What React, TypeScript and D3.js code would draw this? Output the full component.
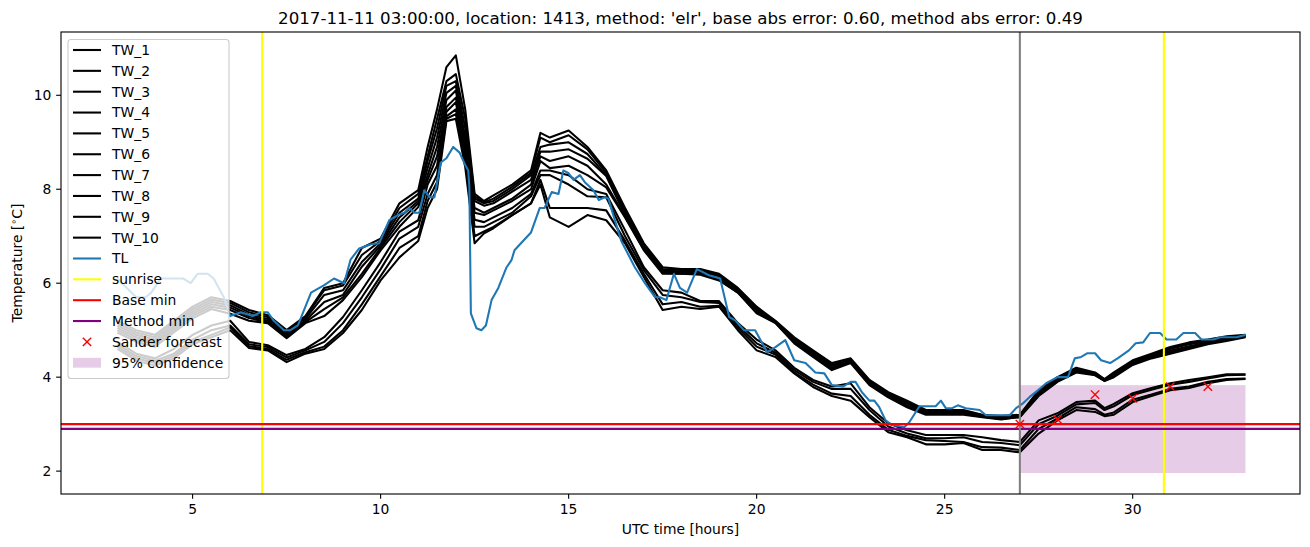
import React from 'react';
import * as d3 from 'd3';

// ---------- data ----------
const twHours = [
  3, 3.5, 4, 4.5, 5, 5.5, 6, 6.5, 7, 7.5, 8, 8.5, 9, 9.5, 10, 10.5, 11,
  11.25, 11.5, 11.75, 12, 12.25, 12.5, 12.75, 13, 13.5, 14, 14.25, 14.5,
  15, 15.5, 16, 16.5, 17, 17.5, 18, 18.5, 19, 19.5, 20, 20.5, 21, 21.5, 22,
  22.5, 23, 23.5, 24, 24.5, 25, 25.5, 26, 26.5, 27, 27.5, 28, 28.5, 29,
  29.25, 29.5, 30, 30.5, 31, 31.5, 32, 32.5, 33,
];

const tw1 = [
  5.2, 5.0, 4.9, 5.2, 5.5, 5.7, 5.62, 5.43, 5.32, 5.0, 5.3, 5.9, 6.0, 6.75, 6.95, 7.7, 7.98,
  8.9, 9.7, 10.6, 10.85, 9.7, 7.9, 7.75, 7.87, 8.1, 8.4, 9.2, 9.1,
  9.25, 8.9, 8.4, 7.6, 6.85, 6.34, 6.3, 6.3, 6.2, 5.9, 5.5, 5.2, 4.85, 4.57, 4.3,
  4.4, 3.94, 3.68, 3.5, 3.3, 3.3, 3.3, 3.2, 3.17, 3.2, 3.72, 4.0, 4.2, 4.1,
  3.96, 4.1, 4.36, 4.5, 4.64, 4.74, 4.8, 4.87, 4.9,
];
const tw2 = [
  5.15, 4.95, 4.85, 5.15, 5.45, 5.65, 5.58, 5.38, 5.28, 4.97, 5.28, 5.85, 5.95, 6.6, 6.9, 7.6, 7.9,
  8.7, 9.5, 10.3, 10.45, 9.5, 7.85, 7.72, 7.8, 8.05, 8.35, 9.1, 9.0,
  9.15, 8.85, 8.35, 7.55, 6.82, 6.3, 6.28, 6.27, 6.17, 5.88, 5.47, 5.19, 4.82, 4.54, 4.27,
  4.37, 3.92, 3.66, 3.47, 3.28, 3.28, 3.28, 3.19, 3.15, 3.18, 3.7, 3.98, 4.18, 4.08,
  3.95, 4.08, 4.34, 4.48, 4.62, 4.72, 4.78, 4.85, 4.89,
];
const tw3 = [
  5.1, 4.9, 4.8, 5.1, 5.4, 5.6, 5.53, 5.33, 5.24, 4.94, 5.24, 5.75, 5.85, 6.45, 6.85, 7.5, 7.8,
  8.6, 9.3, 10.2, 10.3, 9.3, 7.8, 7.7, 7.75, 8.0, 8.3, 8.9, 8.95,
  9.0, 8.75, 8.3, 7.5, 6.78, 6.27, 6.25, 6.25, 6.15, 5.85, 5.44, 5.18, 4.8, 4.51, 4.24,
  4.35, 3.9, 3.64, 3.44, 3.26, 3.26, 3.26, 3.18, 3.14, 3.17, 3.68, 3.96, 4.16, 4.07,
  3.94, 4.06, 4.32, 4.46, 4.6, 4.7, 4.76, 4.83, 4.88,
];
const tw4 = [
  5.05, 4.85, 4.75, 5.05, 5.35, 5.55, 5.48, 5.3, 5.2, 4.9, 5.2, 5.6, 5.75, 6.35, 6.8, 7.4, 7.75,
  8.45, 9.1, 10.05, 10.2, 9.1, 7.75, 7.65, 7.7, 7.95, 8.2, 8.8, 8.8,
  8.85, 8.65, 8.28, 7.45, 6.75, 6.25, 6.22, 6.22, 6.1, 5.83, 5.4, 5.17, 4.77, 4.48, 4.2,
  4.33, 3.88, 3.62, 3.4, 3.24, 3.24, 3.24, 3.17, 3.12, 3.16, 3.65, 3.94, 4.14, 4.06,
  3.93, 4.04, 4.3, 4.44, 4.56, 4.66, 4.74, 4.8, 4.87,
];
const tw5 = [
  5.0, 4.8, 4.7, 5.0, 5.3, 5.5, 5.43, 5.26, 5.17, 4.87, 5.17, 5.45, 5.7, 6.2, 6.75, 7.3, 7.7,
  8.3, 8.9, 9.9, 10.1, 9.0, 7.6, 7.5, 7.6, 7.8, 8.1, 8.7, 8.6,
  8.7, 8.5, 8.1, 7.42, 6.72, 6.22, 6.2, 6.2, 6.08, 5.8, 5.38, 5.16, 4.74, 4.45, 4.18,
  4.32, 3.85, 3.6, 3.38, 3.22, 3.22, 3.22, 3.16, 3.11, 3.15, 3.62, 3.92, 4.12, 4.05,
  3.92, 4.02, 4.28, 4.42, 4.53, 4.63, 4.72, 4.79, 4.86,
];
const tw6 = [
  4.95, 4.75, 4.65, 4.95, 5.25, 5.45, 5.35, 5.2, 5.15, 4.83, 5.15, 5.3, 5.64, 6.13, 6.7, 7.2, 7.62,
  8.2, 8.7, 9.75, 9.95, 8.9, 7.5, 7.45, 7.55, 7.75, 8.0, 8.6, 8.45,
  8.5, 8.3, 8.04, 7.4, 6.7, 6.2, 6.2, 6.18, 6.06, 5.8, 5.36, 5.15, 4.72, 4.43, 4.15,
  4.3, 3.83, 3.57, 3.36, 3.2, 3.2, 3.2, 3.15, 3.1, 3.15, 3.6, 3.9, 4.1, 4.04,
  3.92, 4.0, 4.26, 4.4, 4.5, 4.6, 4.7, 4.77, 4.85,
];
const tw7 = [
  4.75, 4.5, 4.4, 4.6, 4.9, 5.1, 5.2, 4.75, 4.68, 4.47, 4.6, 4.85, 5.28, 5.85, 6.45, 7.1, 7.34,
  8.1, 8.5, 9.65, 9.85, 8.8, 7.35, 7.3, 7.4, 7.6, 7.9, 8.4, 8.4,
  8.3, 8.0, 7.9, 7.13, 6.34, 5.85, 5.8, 5.62, 5.62, 5.15, 4.8, 4.57, 4.2, 3.94, 3.8,
  3.87, 3.36, 3.02, 2.87, 2.77, 2.77, 2.77, 2.72, 2.66, 2.62, 3.08, 3.23, 3.47, 3.5,
  3.34, 3.43, 3.66, 3.77, 3.87, 3.94, 4.0, 4.06, 4.06,
];
const tw8 = [
  4.7, 4.45, 4.35, 4.5, 4.8, 5.0, 5.1, 4.7, 4.64, 4.42, 4.57, 4.75, 5.15, 5.7, 6.3, 6.95, 7.2,
  7.9, 8.3, 9.55, 9.7, 8.7, 7.2, 7.2, 7.3, 7.5, 7.85, 8.3, 8.3,
  8.1, 7.85, 7.83, 7.0, 6.28, 5.75, 5.7, 5.6, 5.58, 5.1, 4.72, 4.52, 4.15, 3.9, 3.75,
  3.75, 3.3, 2.95, 2.8, 2.7, 2.7, 2.72, 2.62, 2.6, 2.55, 3.0, 3.18, 3.42, 3.45,
  3.3, 3.38, 3.62, 3.73, 3.84, 3.9, 3.97, 4.04, 4.05,
];
const tw9 = [
  4.65, 4.4, 4.3, 4.45, 4.75, 4.9, 5.06, 4.66, 4.6, 4.37, 4.53, 4.65, 5.0, 5.55, 6.15, 6.75, 7.0,
  7.75, 8.15, 9.5, 9.6, 8.6, 7.0, 7.1, 7.2, 7.45, 7.7, 8.2, 7.6,
  7.6, 7.6, 7.55, 6.9, 6.2, 5.55, 5.6, 5.5, 5.52, 5.05, 4.65, 4.48, 4.1, 3.84, 3.65,
  3.6, 3.2, 2.88, 2.75, 2.66, 2.64, 2.62, 2.51, 2.5, 2.45, 2.9, 3.12, 3.36, 3.32,
  3.2, 3.25, 3.52, 3.63, 3.75, 3.8, 3.9, 3.96, 3.97,
];
const tw10 = [
  4.6, 4.35, 4.25, 4.4, 4.7, 4.85, 5.0, 4.62, 4.57, 4.32, 4.5, 4.6, 4.94, 5.43, 6.06, 6.55, 6.9,
  7.6, 8.0, 9.45, 9.5, 8.47, 6.85, 7.06, 7.17, 7.45, 7.7, 8.1, 7.4,
  7.2, 7.45, 7.34, 6.85, 6.13, 5.43, 5.5, 5.45, 5.5, 5.0, 4.57, 4.43, 4.08, 3.79, 3.6,
  3.5, 3.15, 2.83, 2.72, 2.57, 2.57, 2.6, 2.45, 2.45, 2.4, 2.8, 3.08, 3.3, 3.26,
  3.17, 3.2, 3.47, 3.6, 3.72, 3.77, 3.87, 3.94, 3.96,
];
const twNames = ['TW_1', 'TW_2', 'TW_3', 'TW_4', 'TW_5', 'TW_6', 'TW_7', 'TW_8', 'TW_9', 'TW_10'];
const twSeries = [tw1, tw2, tw3, tw4, tw5, tw6, tw7, tw8, tw9, tw10];

const tlHours = [
  3.0, 3.25, 3.5, 3.75, 3.9, 4.15, 4.75, 4.95, 5.13, 5.4, 5.56, 5.83, 6.0, 6.28, 6.6, 6.8, 7.0, 7.16,
  7.43, 7.6, 7.8, 8.15, 8.5, 8.76, 9.03, 9.2, 9.43, 9.75, 9.96, 10.23, 10.46, 10.63, 10.76, 10.9,
  11.03, 11.16, 11.3, 11.43, 11.6, 11.75, 11.93, 12.1, 12.23, 12.33, 12.36, 12.4, 12.55, 12.68,
  12.8, 12.95, 13.13, 13.35, 13.48, 13.56, 13.8, 14.0, 14.23, 14.36, 14.55, 14.73, 14.86, 15.0,
  15.13, 15.3, 15.43, 15.66, 15.8, 15.96, 16.06, 16.15, 16.4, 16.76, 17.03, 17.3, 17.43, 17.6,
  17.8, 17.96, 18.15, 18.41, 18.73, 19.03, 19.27, 19.43, 19.66, 19.96, 20.28, 20.5, 20.76, 21.0,
  21.3, 21.56, 21.8, 22.0, 22.3, 22.5, 22.63, 22.8, 23.0, 23.13, 23.26, 23.43, 23.6, 23.93, 24.06,
  24.33, 24.76, 24.9, 25.03, 25.2, 25.35, 25.56, 25.93, 26.1, 26.73, 26.9, 27.08, 27.26, 27.48,
  27.7, 28.0, 28.28, 28.46, 28.63, 28.8, 29.0, 29.16, 29.4, 29.6, 29.9, 30.08, 30.28, 30.46,
  30.73, 30.9, 31.16, 31.35, 31.66, 31.83, 32.15, 32.33, 32.76, 33.0,
];
const tlValues = [
  6.1, 5.9, 5.7, 5.7, 5.8, 6.1, 6.1, 6.0, 6.2, 6.2, 6.1, 5.7, 5.3, 5.38, 5.3, 5.38, 5.38, 5.2,
  5.0, 5.0, 5.1, 5.8, 5.96, 6.1, 6.0, 6.5, 6.74, 6.83, 6.85, 7.34, 7.45, 7.5, 7.6, 7.5,
  7.5, 7.98, 7.83, 7.83, 8.57, 8.66, 8.9, 8.78, 8.55, 8.4, 8.04, 5.36, 5.04, 5.0,
  5.1, 5.64, 5.9, 6.34, 6.49, 6.7, 6.91, 7.08, 7.6, 7.6, 7.94, 7.9, 8.4, 8.34,
  8.2, 8.3, 8.15, 7.98, 7.77, 7.83, 7.8, 7.55, 6.9, 6.34, 6.0, 5.7, 5.7, 5.64,
  6.2, 5.9, 5.8, 6.3, 6.17, 6.1, 5.28, 5.21, 5.0, 5.0, 4.53, 4.64, 4.79, 4.36,
  4.3, 4.1, 4.08, 3.83, 3.8, 3.9, 3.9, 3.68, 3.5, 3.5, 3.36, 3.08, 2.98, 2.94, 3.04,
  3.38, 3.38, 3.5, 3.34, 3.34, 3.4, 3.34, 3.3, 3.19, 3.19, 3.34, 3.44, 3.58, 3.72,
  3.87, 4.0, 4.0, 4.4, 4.43, 4.51, 4.51, 4.36, 4.3, 4.4, 4.57, 4.72, 4.74, 4.94,
  4.94, 4.8, 4.8, 4.94, 4.94, 4.8, 4.8, 4.85, 4.85, 4.9,
];

const sunriseHours = [6.85, 30.83];
const forecastStart = 27;
const baseMin = 3.0;
const methodMin = 2.9;
const sanderHours = [27, 28, 29, 30, 31, 32];
const sanderValues = [3.0, 3.1, 3.63, 3.55, 3.8, 3.8];
const confidence = { x0: 27, x1: 33, lo: 1.96, hi: 3.83 };

const xTicks = [5, 10, 15, 20, 25, 30];
const yTicks = [2, 4, 6, 8, 10];

const title =
  "2017-11-11 03:00:00, location: 1413, method: 'elr', base abs error: 0.60, method abs error: 0.49";

// ---------- component ----------
export default function App() {
  const W = 1310;
  const H = 547;
  const left = 61;
  const right = 1300;
  const top = 32;
  const bottom = 494;
  const font = 'DejaVu Sans, sans-serif';
  const fs = 13.89;
  const lw = 2.08;

  const x = d3.scaleLinear().domain([1.5, 34.45]).range([left, right]);
  const y = d3.scaleLinear().domain([1.513, 11.347]).range([bottom, top]);

  const line = d3
    .line<[number, number]>()
    .x((d) => x(d[0]))
    .y((d) => y(d[1]));

  const twPaths = twSeries.map((vals) => {
    const n = Math.min(vals.length, twHours.length);
    const pts: [number, number][] = [];
    for (let i = 0; i < n; i++) pts.push([twHours[i], vals[i]]);
    return line(pts) || '';
  });
  const tlPts: [number, number][] = tlHours.map((h, i) => [h, tlValues[i]]);
  const tlPath = line(tlPts) || '';

  const legendItems: { label: string; kind: string; color: string }[] = [
    ...twNames.map((n) => ({ label: n, kind: 'line', color: '#000000' })),
    { label: 'TL', kind: 'line', color: '#1f77b4' },
    { label: 'sunrise', kind: 'line', color: '#ffff00' },
    { label: 'Base min', kind: 'line', color: '#ff0000' },
    { label: 'Method min', kind: 'line', color: '#800080' },
    { label: 'Sander forecast', kind: 'x', color: '#ff0000' },
    { label: '95% confidence', kind: 'patch', color: '#800080' },
  ];
  const legX = 68;
  const legY = 39.5;
  const legW = 161;
  const legRow = 20.85;
  const legH = 339;

  const mk = 4.17;
  const mew = 1.39;

  return (
    <svg
      width={W}
      height={H}
      style={{ position: 'absolute', left: 0, top: 0, background: '#fff' }}
      fontFamily={font}
    >
      <defs>
        <clipPath id="plotclip">
          <rect x={left} y={top} width={right - left} height={bottom - top} />
        </clipPath>
      </defs>
      <rect x={0} y={0} width={W} height={H} fill="#fff" />

      <g clipPath="url(#plotclip)">
        <rect
          x={x(confidence.x0)}
          y={y(confidence.hi)}
          width={x(confidence.x1) - x(confidence.x0)}
          height={y(confidence.lo) - y(confidence.hi)}
          fill="#800080"
          fillOpacity={0.2}
        />
        {twPaths.map((p, i) => (
          <path key={i} d={p} fill="none" stroke="#000" strokeWidth={lw} strokeLinejoin="round" />
        ))}
        <path d={tlPath} fill="none" stroke="#1f77b4" strokeWidth={lw} strokeLinejoin="round" />
        {sunriseHours.map((h, i) => (
          <line key={i} x1={x(h)} x2={x(h)} y1={top} y2={bottom} stroke="#ffff00" strokeWidth={lw} />
        ))}
        <line x1={left} x2={right} y1={y(baseMin)} y2={y(baseMin)} stroke="#ff0000" strokeWidth={lw} />
        <line x1={left} x2={right} y1={y(methodMin)} y2={y(methodMin)} stroke="#800080" strokeWidth={lw} />
        <line
          x1={x(forecastStart)}
          x2={x(forecastStart)}
          y1={top}
          y2={bottom}
          stroke="#808080"
          strokeWidth={lw}
        />
        {sanderHours.map((h, i) => {
          const cx = x(h);
          const cy = y(sanderValues[i]);
          return (
            <g key={i} stroke="#ff0000" strokeWidth={mew}>
              <line x1={cx - mk} y1={cy - mk} x2={cx + mk} y2={cy + mk} />
              <line x1={cx - mk} y1={cy + mk} x2={cx + mk} y2={cy - mk} />
            </g>
          );
        })}
      </g>

      <rect x={left} y={top} width={right - left} height={bottom - top} fill="none" stroke="#000" strokeWidth={1.11} />

      {xTicks.map((t) => (
        <g key={t}>
          <line x1={x(t)} x2={x(t)} y1={bottom} y2={bottom + 4.86} stroke="#000" strokeWidth={1.11} />
          <text x={x(t)} y={bottom + 19.5} textAnchor="middle" fontSize={fs} fill="#000">
            {t}
          </text>
        </g>
      ))}
      {yTicks.map((t) => (
        <g key={t}>
          <line x1={left - 4.86} x2={left} y1={y(t)} y2={y(t)} stroke="#000" strokeWidth={1.11} />
          <text x={left - 9.7} y={y(t)} dy="0.35em" textAnchor="end" fontSize={fs} fill="#000">
            {t}
          </text>
        </g>
      ))}

      <text x={(left + right) / 2} y={534} textAnchor="middle" fontSize={fs} fill="#000">
        UTC time [hours]
      </text>
      <text
        transform={`translate(22, ${(top + bottom) / 2}) rotate(-90)`}
        textAnchor="middle"
        fontSize={fs}
        fill="#000"
      >
        Temperature [
        <tspan fontSize={9.7} dy={-5}>
          ∘
        </tspan>
        <tspan dy={5}>C]</tspan>
      </text>
      <text x={(left + right) / 2} y={24} textAnchor="middle" fontSize={16.67} fill="#000">
        {title}
      </text>

      <rect
        x={legX}
        y={legY}
        width={legW}
        height={legH}
        rx={3}
        fill="#fff"
        fillOpacity={0.8}
        stroke="#cccccc"
        strokeWidth={1.11}
      />
      {legendItems.map((it, i) => {
        const cy = legY + 10.5 + i * legRow;
        const hx0 = 73;
        const hx1 = 101;
        let handle: React.ReactNode = null;
        if (it.kind === 'line') {
          handle = <line x1={hx0} x2={hx1} y1={cy} y2={cy} stroke={it.color} strokeWidth={lw} />;
        } else if (it.kind === 'x') {
          const c = (hx0 + hx1) / 2;
          handle = (
            <g stroke={it.color} strokeWidth={mew}>
              <line x1={c - mk} y1={cy - mk} x2={c + mk} y2={cy + mk} />
              <line x1={c - mk} y1={cy + mk} x2={c + mk} y2={cy - mk} />
            </g>
          );
        } else {
          handle = <rect x={hx0} y={cy - 4.9} width={hx1 - hx0} height={9.8} fill={it.color} fillOpacity={0.2} />;
        }
        return (
          <g key={it.label}>
            {handle}
            <text x={112} y={cy} dy="0.35em" fontSize={fs} fill="#000">
              {it.label}
            </text>
          </g>
        );
      })}
    </svg>
  );
}
